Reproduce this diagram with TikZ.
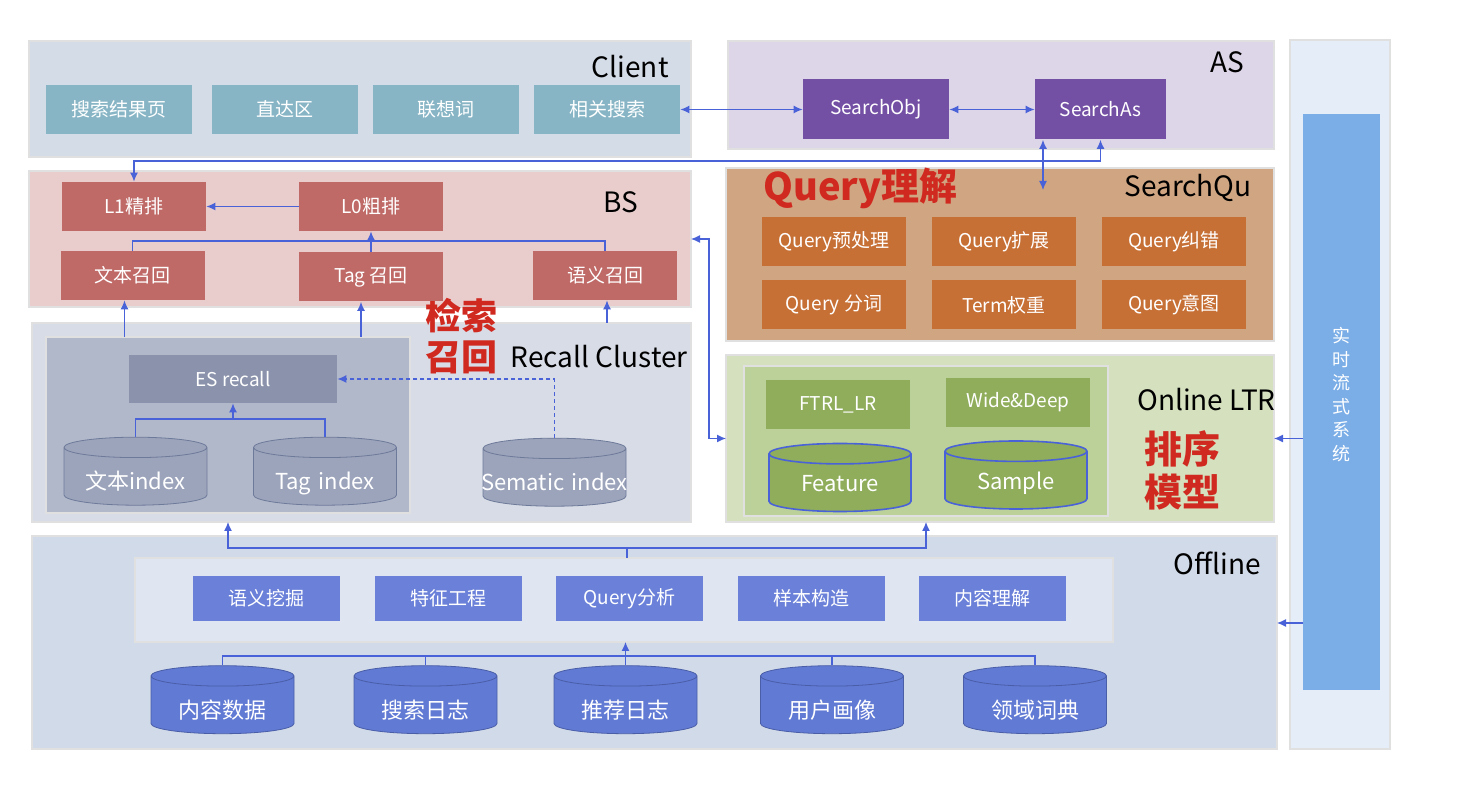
\documentclass[tikz,border=0pt]{standalone}
\usepackage{fontspec}
\setmainfont{Noto Sans CJK SC}
\usetikzlibrary{shapes.geometric,fit,arrows.meta}

\definecolor{clientbg}{HTML}{D4DCE8}
\definecolor{clientbox}{HTML}{87B5C5}
\definecolor{asbg}{HTML}{DDD5E8}
\definecolor{asbox}{HTML}{7450A5}
\definecolor{bsbg}{HTML}{E9CDCD}
\definecolor{bsbox}{HTML}{BF6A67}
\definecolor{recbg}{HTML}{D8DCE6}
\definecolor{recinner}{HTML}{B1B8CA}
\definecolor{esbox}{HTML}{8B93AC}
\definecolor{reccyl}{HTML}{9CA4BB}
\definecolor{reccylline}{HTML}{6E7A9A}
\definecolor{qubg}{HTML}{D0A682}
\definecolor{qubox}{HTML}{C77036}
\definecolor{ltrbg}{HTML}{D4E0BE}
\definecolor{ltrinner}{HTML}{BCD19A}
\definecolor{ltrbox}{HTML}{8FAD5B}
\definecolor{offbg}{HTML}{D1DAE8}
\definecolor{offinner}{HTML}{DFE5F1}
\definecolor{offbox}{HTML}{6B81D9}
\definecolor{offcyl}{HTML}{617AD4}
\definecolor{offcylline}{HTML}{4A5EA8}
\definecolor{sidebg}{HTML}{E4EDF8}
\definecolor{sidebar}{HTML}{7BAEE7}
\definecolor{linkblue}{HTML}{4A62D8}
\definecolor{titlered}{HTML}{D0291F}

% text in the lower part of a cylinder
\newcommand{\dbtext}[2][3pt]{\raisebox{-#1}[9pt][2pt]{#2}}

\tikzset{
  panel/.style={draw=black!12, line width=0.8pt, inner sep=0pt, outer sep=0pt},
  box/.style={minimum width=72pt, minimum height=24.5pt, inner sep=0pt, text=white, font=\fontsize{9.5}{11}\selectfont},
  db/.style={cylinder, shape border rotate=90, aspect=0.17, minimum width=71.5pt, minimum height=34pt, inner sep=0pt, text width=60pt, align=center, text=white, font=\fontsize{11}{13}\selectfont},
  title/.style={inner sep=0pt, anchor=east, font=\fontsize{14}{16}\selectfont},
  redtitle/.style={inner sep=0pt, text=titlered, align=center, font=\bfseries\fontsize{18}{20.5}\selectfont},
  bus/.style={draw=linkblue, line width=0.6pt},
  link/.style={bus, -{Latex[length=4.5pt,width=4pt]}},
  link2/.style={bus, {Latex[length=4.5pt,width=4pt]}-{Latex[length=4.5pt,width=4pt]}},
}

\begin{document}
\begin{tikzpicture}[x=0.5pt, y=-0.5pt]
    \fill[white] (0,0) rectangle (1469,807);

    % Panels
    \node (client) [panel, fill=clientbg, fit={(29,41) (691,157)}] {};
    \node (as) [panel, fill=asbg, fit={(728,41) (1274,149)}] {};
    \node (bs) [panel, fill=bsbg, fit={(29,171) (691,307)}] {};
    \node (qu) [panel, fill=qubg, fit={(726,168) (1274,341)}] {};
    \node (rec) [panel, fill=recbg, fit={(32,323) (691,522)}] {};
    \node (recin) [panel, fill=recinner, fit={(46,337) (410,513)}] {};
    \node (ltr) [panel, fill=ltrbg, fit={(726,355) (1274,522)}] {};
    \node (ltrin) [panel, fill=ltrinner, fit={(744,366) (1108,516)}] {};
    \node (off) [panel, fill=offbg, fit={(32,536) (1277,749)}] {};
    \node (offin) [panel, fill=offinner, fit={(135,558) (1113,642)}] {};
    \node (side) [panel, fill=sidebg, fit={(1290,40) (1390,749)}] {};
    \node (bar) [panel, draw=none, fill=sidebar, fit={(1303,114) (1380,690)}, text=white, align=center, font=\fontsize{9}{11.75}\selectfont] {实\\时\\流\\式\\系\\统};

    % Panel titles
    \node (clienttitle) [title] at (669,67) {Client};
    \node (astitle) [title] at (1245,62) {AS};
    \node (bstitle) [title] at (639,202) {BS};
    \node (qutitle) [title] at (1252,188) {SearchQu};
    \node (rectitle) [title] at (688,357) {Recall Cluster};
    \node (ltrtitle) [title] at (1276,400) {Online LTR};
    \node (offtitle) [title] at (1261,563) {Offline};
    \node (qured) [redtitle, anchor=west, font=\bfseries\fontsize{19}{21}\selectfont] at (763,188) {Query理解};
    \node (recred) [redtitle] at (461,336) {检索\\召回};
    \node (ltrred) [redtitle, font=\bfseries\fontsize{19}{21.5}\selectfont] at (1182,470) {排序\\模型};

    % Client
    \node (sr) [box, fill=clientbox, minimum width=73pt] at (119,109.5) {搜索结果页};
    \node (zd) [box, fill=clientbox, minimum width=73pt] at (285,109.5) {直达区};
    \node (lx) [box, fill=clientbox, minimum width=73pt] at (445.5,109.5) {联想词};
    \node (rel) [box, fill=clientbox, minimum width=73pt] at (607,109.5) {相关搜索};

    % AS
    \node (sobj) [box, fill=asbox, minimum width=73pt, minimum height=30pt] at (876,109.5) {SearchObj};
    \node (sas) [box, fill=asbox, minimum width=65.5pt, minimum height=30pt] at (1100.5,109.5) {SearchAs};

    % BS
    \node (l1) [box, fill=bsbox] at (134,206.5) {L1精排};
    \node (l0) [box, fill=bsbox] at (371,206.5) {L0粗排};
    \node (txt) [box, fill=bsbox] at (132.5,275.5) {文本召回};
    \node (tagr) [box, fill=bsbox] at (371,277) {Tag 召回};
    \node (sem) [box, fill=bsbox] at (605,275.5) {语义召回};

    % SearchQu
    \node (pre) [box, fill=qubox] at (834,241.5) {Query预处理};
    \node (ext) [box, fill=qubox] at (1004,241.5) {Query扩展};
    \node (cor) [box, fill=qubox] at (1174,241.5) {Query纠错};
    \node (seg) [box, fill=qubox] at (834,305) {Query 分词};
    \node (wt) [box, fill=qubox] at (1004,305) {Term权重};
    \node (intent) [box, fill=qubox] at (1174,305) {Query意图};

    % Recall Cluster
    \node (es) [box, fill=esbox, minimum width=104pt, minimum height=24pt] at (233,379) {ES recall};
    \node (tidx) [db, fill=reccyl, draw=reccylline] at (135.5,476.5) {\dbtext{文本index}};
    \node (gidx) [db, fill=reccyl, draw=reccylline] at (325,476.5) {\dbtext{Tag index}};
    \node (sidx) [db, fill=reccyl, draw=reccylline] at (554.5,477.5) {\dbtext{\makebox[60pt][c]{Sematic index}}};

    % Online LTR
    \node (ftrl) [box, fill=ltrbox] at (838,404.5) {FTRL\_LR};
    \node (wd) [box, fill=ltrbox] at (1018,402.5) {Wide\&Deep};
    \node (feat) [db, fill=ltrbox, draw=linkblue, line width=0.8pt, minimum width=71pt] at (840,483) {\dbtext[1pt]{Feature}};
    \node (samp) [db, fill=ltrbox, draw=linkblue, line width=0.8pt, minimum width=71pt] at (1016,480.5) {\dbtext[1pt]{Sample}};

    % Offline
    \node (mine) [box, fill=offbox, minimum width=73.5pt, minimum height=22.5pt] at (266.5,598.5) {语义挖掘};
    \node (feng) [box, fill=offbox, minimum width=73.5pt, minimum height=22.5pt] at (448,598.5) {特征工程};
    \node (qana) [box, fill=offbox, minimum width=73.5pt, minimum height=22.5pt] at (629.5,598.5) {Query分析};
    \node (smp) [box, fill=offbox, minimum width=73.5pt, minimum height=22.5pt] at (811,598.5) {样本构造};
    \node (cont) [box, fill=offbox, minimum width=73.5pt, minimum height=22.5pt] at (992.5,598.5) {内容理解};
    \node (d1) [db, fill=offcyl, draw=offcylline] at (222.5,705) {\dbtext{内容数据}};
    \node (d2) [db, fill=offcyl, draw=offcylline] at (425.5,705) {\dbtext{搜索日志}};
    \node (d3) [db, fill=offcyl, draw=offcylline] at (625.5,705) {\dbtext{推荐日志}};
    \node (d4) [db, fill=offcyl, draw=offcylline] at (832,705) {\dbtext{用户画像}};
    \node (d5) [db, fill=offcyl, draw=offcylline] at (1035,705) {\dbtext{领域词典}};

    % Client - AS
    \draw[link2] (rel) -- (sobj);
    \draw[link2] (sobj) -- (sas);

    % AS - BS, AS - SearchQu
    \coordinate (asbus) at (600,161);
    \draw[link2] (l1.north) |- (asbus) -| (sas.south);
    \coordinate (qutop) at (1043,190);
    \draw[link2] (sas.south west -| qutop) -- (qutop);

    % BS - Online LTR
    \coordinate (bsltr) at (709,239);
    \draw[link2] (bsltr -| bs.east) -- (bsltr) |- (ltr.west);

    % BS inside
    \draw[link] (l0) -- (l1);
    \coordinate (bsbus) at (371,241);
    \draw[bus] (txt.north) |- (bsbus) -| (sem.north);
    \draw[link] (tagr.north) -- (l0.south);

    % Recall Cluster - BS
    \draw[link] ([xshift=-4pt]txt.south |- recin.north) -- ([xshift=-4pt]txt.south);
    \draw[link] ([xshift=-5pt]tagr.south |- recin.north) -- ([xshift=-5pt]tagr.south);
    \draw[link] ([xshift=1pt]sem.south |- rec.north) -- ([xshift=1pt]sem.south);

    % Recall Cluster inside
    \coordinate (esbus) at (233,419);
    \draw[bus] (tidx.north) |- (esbus) -| (gidx.north);
    \draw[link] (esbus) -- (es.south);
    \draw[link, dash pattern=on 2pt off 1.5pt] (sidx.north) |- (es.east);

    % Offline inside
    \coordinate (offbus) at (625.5,656);
    \draw[bus] (d1.north) |- (offbus) -| (d5.north);
    \draw[bus] (d2.north) -- (d2.north |- offbus);
    \draw[bus] (d4.north) -- (d4.north |- offbus);
    \draw[link] (d3.north) -- (d3.north |- offin.south);

    % Offline - Recall Cluster, Online LTR
    \coordinate (upbus) at (627,548);
    \draw[bus] (offin.north -| upbus) -- (upbus);
    \draw[link] (upbus) -| (rec.south -| recin.south);
    \draw[link] (upbus) -| (ltr.south -| ltrin.south);

    % realtime system
    \draw[link] (bar.west |- ltr.east) -- (ltr.east);
    \draw[link] ([yshift=9.75pt]off.east -| bar.west) -- ([yshift=9.75pt]off.east);
\end{tikzpicture}
\end{document}
